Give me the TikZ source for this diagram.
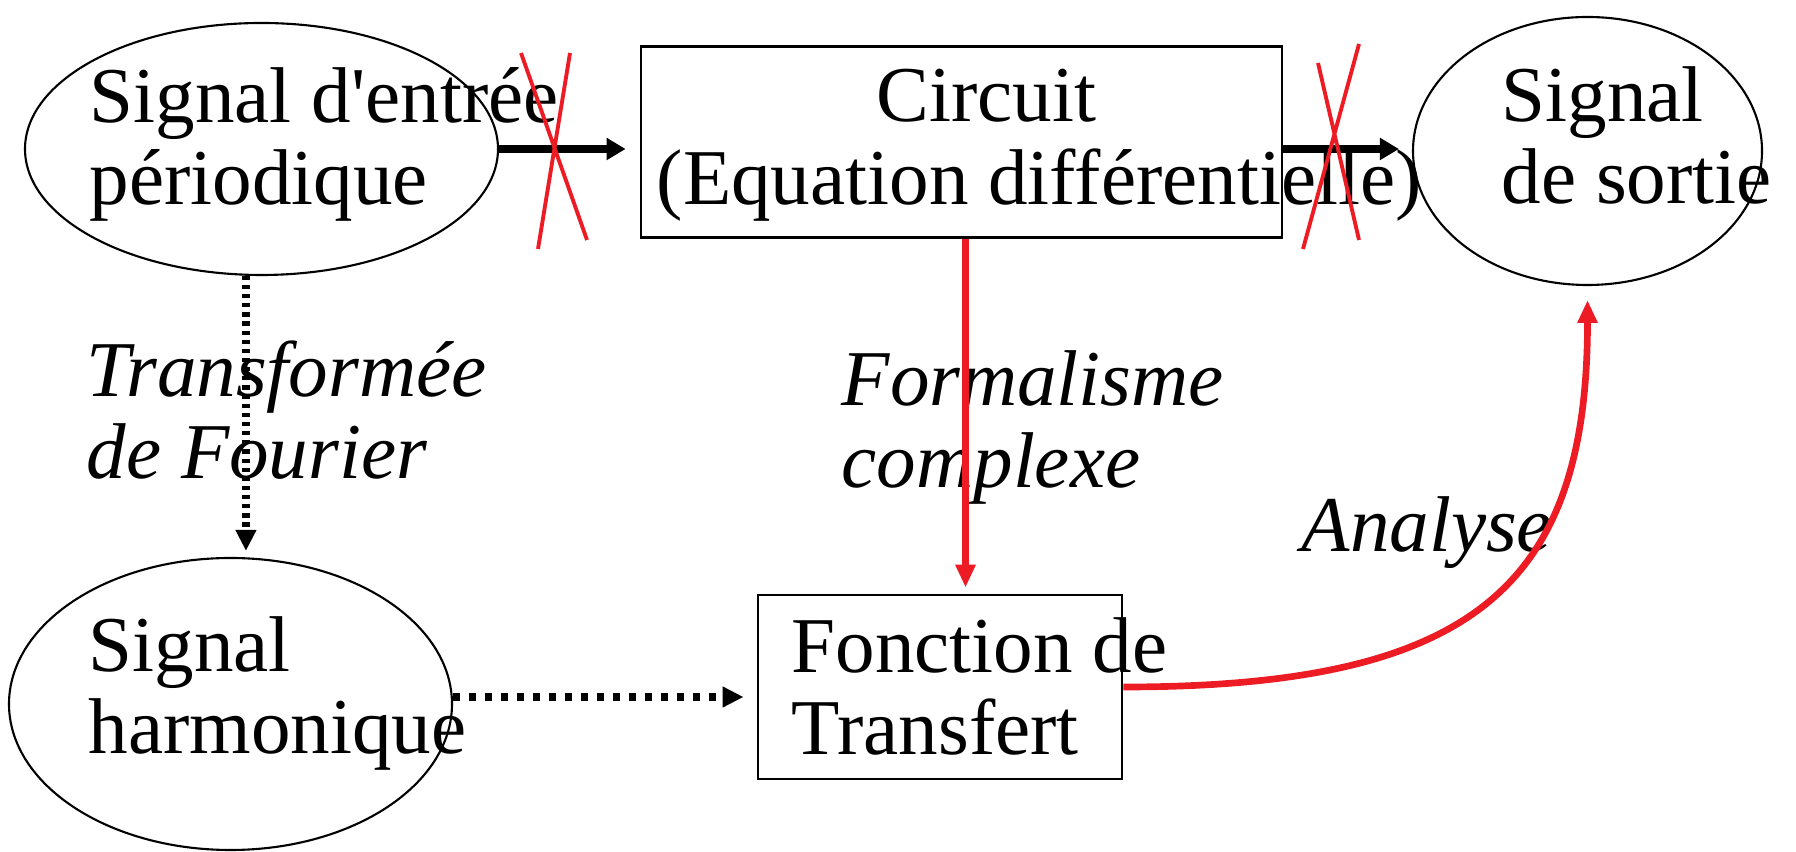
\documentclass[tikz,border=0pt]{standalone}
\usepackage{fontspec}
\setmainfont{Liberation Serif}
\usepackage{tikz}
\usetikzlibrary{arrows.meta,positioning,shapes.geometric,calc}
\definecolor{rouge}{RGB}{237,28,36}

\begin{document}
\begin{tikzpicture}[
    bulle/.style={draw,ellipse,line width=0.6pt,inner sep=0pt},
    boite/.style={draw,rectangle,line width=0.8pt,inner sep=0pt},
    texte/.style={anchor=base west,align=left,inner sep=0pt,
                  font=\fontsize{22.5}{23.6}\selectfont},
    italique/.style={texte,font=\fontsize{22.5}{23.6}\selectfont\itshape},
    fleche/.style={line width=2pt,-{Triangle[length=5.4pt,width=6pt]}},
    pointille/.style={line width=2.1pt,dash pattern=on 1.2pt off 1.4pt,
                      -{Triangle[length=6pt,width=5.6pt]}},
    fleche rouge/.style={rouge,-{Triangle[length=6.5pt,width=5.4pt]}}]
  \useasboundingbox (0,0) rectangle (17.96,8.52);
  % les formes
  \node[bulle,minimum width=4.73cm,minimum height=2.52cm] (entree) at (2.615,7.03) {};
  \node[boite,minimum width=6.41cm,minimum height=1.91cm] (circuit) at (9.615,7.10) {};
  \node[bulle,minimum width=3.49cm,minimum height=2.68cm] (sortie) at (15.875,7.01) {};
  \node[bulle,minimum width=4.43cm,minimum height=2.92cm] (harmo) at (2.305,1.48) {};
  \node[boite,minimum width=3.64cm,minimum height=1.84cm] (fonction) at (9.40,1.65) {};
  % les textes (base = derniere ligne)
  \node[texte] (tentree) at (0.89,6.47) {Signal d\textquotesingle entrée\\périodique};
  \node[texte] (tcircuit) at (8.76,7.30) {Circuit};
  \node[texte] (tequation) at (6.56,6.47) {(Equation différentielle)};
  \node[texte] (tsortie) at (15.01,6.48) {Signal\\de sortie};
  \node[texte] (tharmo) at (0.88,0.98) {Signal\\harmonique};
  \node[texte] (tfonction) at (7.91,0.97) {Fonction de\\Transfert};
  \node[italique] (tfourier) at (0.86,3.73) {Transformée\\de Fourier};
  \node[italique] (tformalisme) at (8.41,3.64) {Formalisme\\complexe};
  \node[italique] (tanalyse) at (13.01,3.00) {Analyse};
  % les liaisons
  \draw[fleche,shorten >=0.14cm] (entree.east) -- (entree.east -| circuit.west);
  \draw[fleche,shorten >=0.13cm] (circuit.east |- entree.east) -- (sortie.west |- entree.east);
  \draw[pointille,shorten >=0.06cm] (entree.-97) -- (entree.-97 |- harmo.north);
  \draw[pointille,line width=2.3pt,dash pattern=on 2pt off 2.55pt,shorten >=0.13cm]
    ($(harmo.east)+(0,0.07)$) coordinate (hd) -- (hd -| fonction.west);
  \coordinate (formhaut) at ([xshift=0.04cm]circuit.south);
  \draw[fleche rouge,line width=1.8pt,shorten >=0.06cm] (formhaut) -- (formhaut |- fonction.north);
  \draw[fleche rouge,line width=1.9pt,shorten >=0.14cm]
    (fonction.east) .. controls +(3.5,0) and +(0,-3.0) .. (sortie.south);
  % les croix
  \draw[rouge,line width=1.1pt] (5.21,7.99) -- (5.87,6.12) (5.70,7.99) -- (5.38,6.03);
  \draw[rouge,line width=1.1pt] (13.18,7.89) -- (13.59,6.12) (13.59,8.08) -- (13.03,6.03);
\end{tikzpicture}
\end{document}
